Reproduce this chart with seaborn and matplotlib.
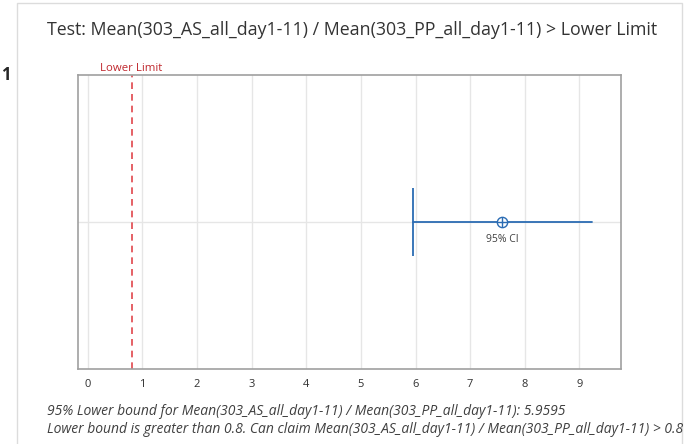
import numpy as np
import pandas as pd
import matplotlib
matplotlib.use("Agg")
import matplotlib.pyplot as plt
import seaborn as sns
from matplotlib.patches import Rectangle

# data
lower_limit = 0.8
ci_lower = 5.9595
ci_mean = 7.58
ci_upper = 9.23
xticks = [0, 1, 2, 3, 4, 5, 6, 7, 8, 9]

title = "Test: Mean(303_AS_all_day1-11) / Mean(303_PP_all_day1-11) > Lower Limit"
note1 = "95% Lower bound for Mean(303_AS_all_day1-11) / Mean(303_PP_all_day1-11): 5.9595"
note2 = "Lower bound is greater than 0.8. Can claim Mean(303_AS_all_day1-11) / Mean(303_PP_all_day1-11) > 0.8"

sns.set_style("white")
plt.rcParams["font.family"] = ["Open Sans", "DejaVu Sans"]

blue = "#2b6cb3"
red = "#e0454b"

fig = plt.figure(figsize=(6.85, 4.44), dpi=100)
ax = fig.add_axes([78 / 685, 1 - 369 / 444, (621 - 78) / 685, (369 - 75) / 444])

# outer panel border
fig.patches.append(Rectangle((17 / 685, -0.1), (682 - 17) / 685, 1.1 - 3 / 444,
                             transform=fig.transFigure, fill=False,
                             edgecolor="#dcdcdc", linewidth=1))

df = pd.DataFrame({"x": [ci_lower, ci_upper], "y": [0, 0]})
sns.lineplot(data=df, x="x", y="y", ax=ax, color=blue, linewidth=1.3)
ax.vlines(ci_lower, -0.228, 0.228, color=blue, linewidth=1.3)
sns.scatterplot(x=[ci_mean], y=[0], ax=ax, marker="o", s=55,
                facecolor="white", edgecolor=blue, linewidth=1, zorder=4)
ax.plot([ci_mean], [0], marker="+", color=blue, markersize=7, mew=1, zorder=5)
ax.text(ci_mean, -0.12, "95% CI", ha="center", va="center", fontsize=7.5, color="#404040")

ax.axvline(lower_limit, color=red, linestyle=(0, (4, 3)), linewidth=1.2)
ax.text(lower_limit, 1.005, "Lower Limit", transform=ax.get_xaxis_transform(),
        ha="center", va="bottom", fontsize=8.2, color="#c0282e")

ax.set_xlim(-0.18, 9.76)
ax.set_ylim(-1, 1)
ax.set_xticks(xticks)
ax.set_xticklabels([str(t) for t in xticks], fontsize=8, color="#303030")
ax.set_yticks([0])
ax.set_yticklabels([])
ax.tick_params(axis="y", length=0)
ax.tick_params(axis="x", length=3, color="#888888", pad=4)
ax.grid(True, color="#e6e6e6", linewidth=1)
ax.set_axisbelow(True)
ax.set_xlabel("")
ax.set_ylabel("")
for s in ax.spines.values():
    s.set_color("#a0a0a0")
    s.set_linewidth(1.2)

fig.text(47 / 685, 1 - 30 / 444, title, fontsize=12.8, color="#333333", va="center", ha="left")
fig.text(1 / 685, 1 - 75 / 444, "1", fontsize=12, fontweight="bold", va="center", ha="left")
fig.text(47 / 685, 1 - 411 / 444, note1, fontsize=10, style="italic", color="#404040", va="center")
fig.text(47 / 685, 1 - 429 / 444, note2, fontsize=10, style="italic", color="#404040", va="center")

fig.savefig("out.png", dpi=100)
